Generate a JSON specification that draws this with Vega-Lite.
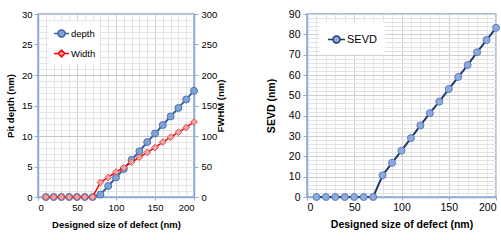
{
  "$schema": "https://vega.github.io/schema/vega-lite/v6.json",
  "padding": {"left": 4, "top": 8, "right": 0, "bottom": 0},
  "spacing": 38,
  "datasets": {
    "pit": [
      {"size": 10, "depth": 0, "fwhm": 0},
      {"size": 20, "depth": 0, "fwhm": 0},
      {"size": 30, "depth": 0, "fwhm": 0},
      {"size": 40, "depth": 0, "fwhm": 0},
      {"size": 50, "depth": 0, "fwhm": 0},
      {"size": 60, "depth": 0, "fwhm": 0},
      {"size": 70, "depth": 0, "fwhm": 0},
      {"size": 80, "depth": 0.4, "fwhm": 24},
      {"size": 90, "depth": 1.8, "fwhm": 32},
      {"size": 100, "depth": 3.2, "fwhm": 41},
      {"size": 110, "depth": 4.6, "fwhm": 48},
      {"size": 120, "depth": 6.1, "fwhm": 57},
      {"size": 130, "depth": 7.5, "fwhm": 65},
      {"size": 140, "depth": 9.0, "fwhm": 73},
      {"size": 150, "depth": 10.4, "fwhm": 81},
      {"size": 160, "depth": 11.8, "fwhm": 90},
      {"size": 170, "depth": 13.2, "fwhm": 98},
      {"size": 180, "depth": 14.6, "fwhm": 106},
      {"size": 190, "depth": 16.0, "fwhm": 114},
      {"size": 200, "depth": 17.4, "fwhm": 123}
    ],
    "sevd": [
      {"size": 10, "sevd": 0},
      {"size": 20, "sevd": 0},
      {"size": 30, "sevd": 0},
      {"size": 40, "sevd": 0},
      {"size": 50, "sevd": 0},
      {"size": 60, "sevd": 0},
      {"size": 70, "sevd": 0},
      {"size": 80, "sevd": 10.7},
      {"size": 90, "sevd": 16.8},
      {"size": 100, "sevd": 22.8},
      {"size": 110, "sevd": 29.0},
      {"size": 120, "sevd": 35.2},
      {"size": 130, "sevd": 41.2},
      {"size": 140, "sevd": 46.9},
      {"size": 150, "sevd": 53.1},
      {"size": 160, "sevd": 59.0},
      {"size": 170, "sevd": 64.9},
      {"size": 180, "sevd": 71.2},
      {"size": 190, "sevd": 77.2},
      {"size": 200, "sevd": 83.2}
    ]
  },
  "hconcat": [
    {
      "width": 156,
      "height": 183,
      "data": {"name": "pit"},
      "encoding": {
        "x": {
          "field": "size", "type": "quantitative",
          "scale": {"domain": [0, 200], "nice": false},
          "axis": {
            "title": "Designed size of defect (nm)",
            "values": [0,10,20,30,40,50,60,70,80,90,100,110,120,130,140,150,160,170,180,190,200],
            "labelExpr": "datum.value % 50 === 0 ? datum.label : ''",
            "tickOpacity": {"condition": {"test": "datum.value % 50 === 0", "value": 1}, "value": 0},
            "gridColor": {"condition": {"test": "datum.value % 50 === 0", "value": "#cfcfcf"}, "value": "#e3e3e3"},
            "labelFontSize": 9.5,
            "titleFontSize": 9.5,
            "titlePadding": 8,
            "tickSize": 3,
            "labelPadding": 2
          }
        }
      },
      "layer": [
        {
          "encoding": {
            "y": {
              "field": "depth", "type": "quantitative",
              "scale": {"domain": [0, 30], "nice": false},
              "axis": {
                "title": "Pit depth (nm)",
                "orient": "left",
                "values": [0,1,2,3,4,5,6,7,8,9,10,11,12,13,14,15,16,17,18,19,20,21,22,23,24,25,26,27,28,29,30],
                "labelExpr": "datum.value % 5 === 0 ? datum.label : ''",
                "tickOpacity": {"condition": {"test": "datum.value % 5 === 0", "value": 1}, "value": 0},
                "gridColor": {"condition": {"test": "datum.value % 10 === 0", "value": "#c6c6c6"}, "value": "#e3e3e3"},
                "labelFontSize": 9.5,
                "titleFontSize": 9.5,
                "titlePadding": 6,
                "tickSize": 4,
                "labelPadding": 2
              }
            }
          },
          "layer": [
            {
              "mark": {"type": "line", "strokeWidth": 2},
              "encoding": {
                "color": {
                  "datum": "depth",
                  "scale": {"domain": ["depth", "Width"], "range": ["#3b5f9c", "#ff0000"]},
                  "legend": {
                    "title": null,
                    "orient": "none",
                    "legendX": 11,
                    "legendY": 7,
                    "fillColor": "white",
                    "padding": 4,
                    "rowPadding": 4,
                    "symbolSize": 225,
                    "labelFontSize": 9.5,
                    "labelOffset": 1,
                    "labelFont": "Liberation Sans",
                    "encode": {
                      "symbols": {
                        "update": {
                          "shape": [
                            {"test": "datum.value === 'depth'", "value": "M-1,0L-0.47,0M0.47,0L1,0M-0.47,0A0.47,0.47 0 1,1 0.47,0A0.47,0.47 0 1,1 -0.47,0Z"},
                            {"value": "M-1,0L-0.45,0M0.45,0L1,0M-0.45,0L0,-0.45L0.45,0L0,0.45Z"}
                          ],
                          "fill": [
                            {"test": "datum.value === 'depth'", "value": "#7fa3d6"},
                            {"value": "#eba3a3"}
                          ],
                          "stroke": [
                            {"test": "datum.value === 'depth'", "value": "#3b5f9c"},
                            {"value": "#ff0000"}
                          ],
                          "strokeWidth": {"value": 1.5},
                          "opacity": {"value": 1},
                          "fillOpacity": {"value": 1},
                          "strokeOpacity": {"value": 1}
                        }
                      }
                    }
                  }
                }
              }
            },
            {
              "mark": {"type": "point", "filled": true, "fill": "#7fa3d6", "stroke": "#4f74b0", "strokeWidth": 1, "size": 49, "opacity": 1, "shape": "circle"}
            }
          ]
        },
        {
          "encoding": {
            "y": {
              "field": "fwhm", "type": "quantitative",
              "scale": {"domain": [0, 300], "nice": false},
              "axis": {
                "title": "FWHM (nm)",
                "orient": "right",
                "values": [0,50,100,150,200,250,300],
                "grid": false,
                "titleAngle": -90,
                "labelFontSize": 9.5,
                "titleFontSize": 9.5,
                "titlePadding": 9,
                "tickSize": 4,
                "labelPadding": 3
              }
            }
          },
          "layer": [
            {
              "mark": {"type": "line", "strokeWidth": 1.5},
              "encoding": {
                "color": {
                  "datum": "Width",
                  "scale": {"domain": ["depth", "Width"], "range": ["#3b5f9c", "#ff0000"]}
                }
              }
            },
            {
              "mark": {"type": "point", "filled": true, "fill": "#eba3a3", "stroke": "#e05555", "strokeWidth": 1, "size": 45, "opacity": 1, "shape": "diamond"}
            }
          ]
        }
      ],
      "resolve": {"scale": {"y": "independent"}}
    },
    {
      "width": 189,
      "height": 183,
      "data": {"name": "sevd"},
      "encoding": {
        "x": {
          "field": "size", "type": "quantitative",
          "scale": {"domain": [0, 200], "nice": false},
          "axis": {
            "title": "Designed size of defect (nm)",
            "values": [0,10,20,30,40,50,60,70,80,90,100,110,120,130,140,150,160,170,180,190,200],
            "labelExpr": "datum.value % 50 === 0 ? datum.label : ''",
            "tickOpacity": {"condition": {"test": "datum.value % 50 === 0", "value": 1}, "value": 0},
            "gridColor": {"condition": {"test": "datum.value % 50 === 0", "value": "#cfcfcf"}, "value": "#e3e3e3"},
            "labelFontSize": 10.5,
            "titleFontSize": 10.5,
            "titlePadding": 7,
            "tickSize": 3,
            "labelPadding": 2
          }
        },
        "y": {
          "field": "sevd", "type": "quantitative",
          "scale": {"domain": [0, 90], "nice": false},
          "axis": {
            "title": "SEVD (nm)",
            "values": [0,2,4,6,8,10,12,14,16,18,20,22,24,26,28,30,32,34,36,38,40,42,44,46,48,50,52,54,56,58,60,62,64,66,68,70,72,74,76,78,80,82,84,86,88,90],
            "labelExpr": "datum.value % 10 === 0 ? datum.label : ''",
            "tickOpacity": {"condition": {"test": "datum.value % 10 === 0", "value": 1}, "value": 0},
            "gridColor": {"condition": {"test": "datum.value % 10 === 0", "value": "#cfcfcf"}, "value": "#e3e3e3"},
            "labelFontSize": 10.5,
            "titleFontSize": 10.5,
            "titlePadding": 12,
            "tickSize": 4,
            "labelPadding": 3
          }
        }
      },
      "layer": [
        {
          "mark": {"type": "line", "strokeWidth": 2},
          "encoding": {
            "color": {
              "datum": "SEVD",
              "scale": {"domain": ["SEVD"], "range": ["#1f3a6e"]},
              "legend": {
                "title": null,
                "orient": "none",
                "legendX": 12,
                "legendY": 8,
                "fillColor": "white",
                "padding": 8,
                "symbolSize": 289,
                "labelFontSize": 11,
                "labelOffset": 1,
                "labelFont": "Liberation Sans",
                "encode": {
                  "symbols": {
                    "update": {
                      "shape": {"value": "M-1,0L-0.41,0M0.41,0L1,0M-0.41,0A0.41,0.41 0 1,1 0.41,0A0.41,0.41 0 1,1 -0.41,0Z"},
                      "fill": {"value": "#8eaadb"},
                      "stroke": {"value": "#1f3a6e"},
                      "strokeWidth": {"value": 1.5},
                      "opacity": {"value": 1},
                      "fillOpacity": {"value": 1},
                      "strokeOpacity": {"value": 1}
                    }
                  }
                }
              }
            }
          }
        },
        {
          "mark": {"type": "point", "filled": true, "fill": "#8eaadb", "stroke": "#5b7fbf", "strokeWidth": 1, "size": 49, "opacity": 1, "shape": "circle"}
        }
      ]
    }
  ],
  "resolve": {"scale": {"color": "independent"}},
  "config": {
    "font": "Liberation Sans",
    "view": {"stroke": "#8eaad6", "strokeWidth": 1.5},
    "axis": {
      "labelFont": "Liberation Sans",
      "titleFont": "Liberation Sans",
      "labelColor": "#000000",
      "titleColor": "#000000",
      "titleFontWeight": "bold",
      "domainColor": "#8eaad6",
      "domainWidth": 1.5,
      "tickColor": "#8eaad6",
      "gridWidth": 1
    }
  }
}
